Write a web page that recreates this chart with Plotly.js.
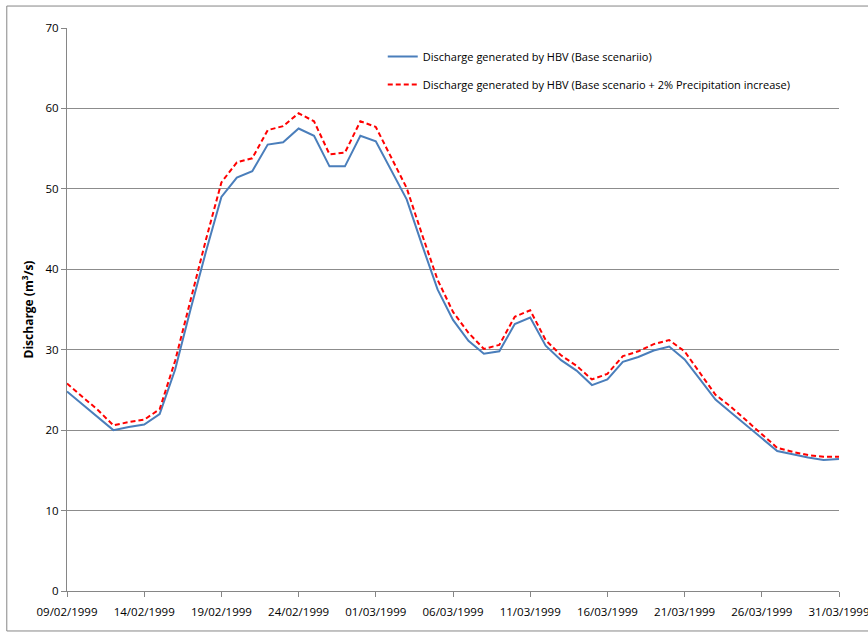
<!DOCTYPE html>
<html>
<head>
<meta charset="utf-8">
<script src="https://cdn.plot.ly/plotly-3.0.1.min.js"></script>
<style>
html,body{margin:0;padding:0;background:#fff;}
#chart{width:868px;height:635px;}
</style>
</head>
<body>
<div id="chart"></div>
<script>
var dates = [
  "1999-02-09","1999-02-10","1999-02-11","1999-02-12","1999-02-13","1999-02-14","1999-02-15",
  "1999-02-16","1999-02-17","1999-02-18","1999-02-19","1999-02-20","1999-02-21","1999-02-22",
  "1999-02-23","1999-02-24","1999-02-25","1999-02-26","1999-02-27","1999-02-28",
  "1999-03-01","1999-03-02","1999-03-03","1999-03-04","1999-03-05","1999-03-06","1999-03-07",
  "1999-03-08","1999-03-09","1999-03-10","1999-03-11","1999-03-12","1999-03-13","1999-03-14",
  "1999-03-15","1999-03-16","1999-03-17","1999-03-18","1999-03-19","1999-03-20","1999-03-21",
  "1999-03-22","1999-03-23","1999-03-24","1999-03-25","1999-03-26","1999-03-27","1999-03-28",
  "1999-03-29","1999-03-30","1999-03-31"
];

var baseScenario = [
  24.8, 23.2, 21.7, 20.0, 20.4, 20.7, 22.0, 27.5, 35.0, 42.2,
  49.0, 51.4, 52.2, 55.5, 55.8, 57.5, 56.6, 52.8, 52.8, 56.6,
  55.9, 52.3, 48.7, 43.0, 37.5, 33.7, 31.1, 29.5, 29.8, 33.2,
  34.0, 30.5, 28.7, 27.4, 25.6, 26.3, 28.5, 29.1, 29.9, 30.4,
  28.8, 26.3, 23.8, 22.2, 20.6, 18.9, 17.4, 17.0, 16.6, 16.3,
  16.4
];

var precipIncrease = [
  25.8, 24.2, 22.5, 20.6, 21.0, 21.3, 22.6, 28.6, 36.3, 43.7,
  50.8, 53.3, 53.8, 57.3, 57.8, 59.4, 58.4, 54.3, 54.5, 58.4,
  57.7, 54.0, 50.1, 44.3, 38.7, 34.7, 32.1, 30.1, 30.6, 34.1,
  34.9, 31.2, 29.3, 28.0, 26.3, 27.0, 29.2, 29.8, 30.7, 31.2,
  29.8, 27.1, 24.4, 22.9, 21.2, 19.6, 17.8, 17.3, 16.9, 16.7,
  16.7
];

var seriesNames = [
  "Discharge generated by HBV (Base scenariio)",
  "Discharge generated by HBV (Base scenario + 2% Precipitation increase)"
];

var tickDates = ["1999-02-09","1999-02-14","1999-02-19","1999-02-24","1999-03-01","1999-03-06",
                 "1999-03-11","1999-03-16","1999-03-21","1999-03-26","1999-03-31"];
var tickLabels = ["09/02/1999","14/02/1999","19/02/1999","24/02/1999","01/03/1999","06/03/1999",
                  "11/03/1999","16/03/1999","21/03/1999","26/03/1999","31/03/1999"];
var yTicks = [0,10,20,30,40,50,60,70];

var font = "'Open Sans', 'Liberation Sans', sans-serif";

var traces = [
  {
    x: dates, y: baseScenario, type: "scatter", mode: "lines",
    name: seriesNames[0], legendgroup: "a",
    line: {color: "#4a7ebb", width: 2}
  },
  {
    x: dates, y: precipIncrease, type: "scatter", mode: "lines",
    name: seriesNames[1], legendgroup: "b",
    line: {color: "#ff0000", width: 2, dash: "5px,3px"}
  }
];

var layout = {
  width: 868, height: 635,
  margin: {l: 67, r: 29, t: 28, b: 44},
  paper_bgcolor: "#fff", plot_bgcolor: "#fff",
  font: {family: font, size: 11, color: "#000"},
  showlegend: true,
  legend: {
    x: 0.409, y: 0.975, xanchor: "left", yanchor: "top",
    bgcolor: "rgba(255,255,255,0)", borderwidth: 0,
    font: {family: font, size: 11, color: "#000"},
    tracegroupgap: 9, traceorder: "grouped"
  },
  xaxis: {
    type: "date",
    range: ["1999-02-09", "1999-03-31"],
    tickmode: "array", tickvals: tickDates, ticktext: tickLabels,
    showgrid: false, zeroline: false,
    showline: true, linecolor: "#868686", linewidth: 1,
    ticks: "outside", ticklen: 5, tickcolor: "#868686",
    ticklabeloverflow: "allow", ticklabelstandoff: 5,
    tickfont: {family: font, size: 11.5, color: "#000"}
  },
  yaxis: {
    range: [0, 70],
    tickmode: "array", tickvals: yTicks,
    showgrid: true, gridcolor: "#8c8c8c", gridwidth: 1,
    zeroline: false,
    showline: true, linecolor: "#868686", linewidth: 1,
    ticks: "outside", ticklen: 5, tickcolor: "#868686",
    tickfont: {family: font, size: 11.5, color: "#000"},
    title: {text: "<b>Discharge (m<sup>3</sup>/s)</b>", font: {family: font, size: 12, color: "#000"}, standoff: 9}
  },
  shapes: [
    {type: "rect", xref: "paper", yref: "paper",
     x0: -0.078, x1: 1.06, y0: -0.071, y1: 1.039,
     line: {color: "#868686", width: 1}, fillcolor: "rgba(0,0,0,0)"}
  ]
};

Plotly.newPlot("chart", traces, layout, {displayModeBar: false, staticPlot: true});
</script>
</body>
</html>
